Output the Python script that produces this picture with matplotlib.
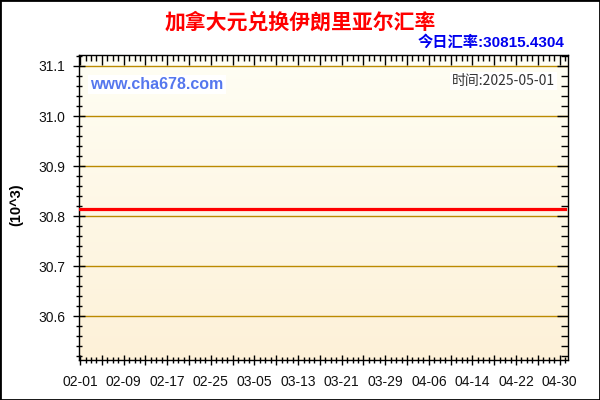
import datetime as dt
import numpy as np
import matplotlib
matplotlib.use("Agg")
import matplotlib.pyplot as plt
from matplotlib.colors import LinearSegmentedColormap
from matplotlib.ticker import MultipleLocator, FuncFormatter
from matplotlib.patches import Rectangle

# CAD -> IRR, 1 CAD in units of 10^3 IRR
dates = ["2025-02-01", "2025-02-09", "2025-02-17", "2025-02-25", "2025-03-05",
         "2025-03-13", "2025-03-21", "2025-03-29", "2025-04-06", "2025-04-14",
         "2025-04-22", "2025-04-30", "2025-05-01"]
rates = [30815.4304, 30815.4304, 30815.4304, 30815.4304, 30815.4304,
         30815.4304, 30815.4304, 30815.4304, 30815.4304, 30815.4304,
         30815.4304, 30815.4304, 30815.4304]
today_rate = "30815.4304"
today = "2025-05-01"

start = dt.date(2025, 2, 1)
days = [(dt.date.fromisoformat(d) - start).days for d in dates]
vals = [r / 1000 for r in rates]

cjk = ["Noto Sans CJK SC", "DejaVu Sans"]
plt.rcParams["font.family"] = ["Liberation Sans", "Noto Sans CJK SC"]

fig = plt.figure(figsize=(6, 4), dpi=100)
fig.patches.append(Rectangle((0, 0), 1, 1, transform=fig.transFigure,
                             fill=False, edgecolor="black", linewidth=2))
ax = fig.add_axes([0.1317, 0.0988, 0.8155, 0.7625])

# gradient background
cmap = LinearSegmentedColormap.from_list("bg", ["#fdf1d8", "#fffef4"])
ax.imshow(np.linspace(0, 1, 256).reshape(-1, 1), cmap=cmap, aspect="auto",
          extent=[0, 1, 0, 1], transform=ax.transAxes, origin="lower", zorder=0)

ax.set_xlim(-0.2, 89.6)
ax.set_ylim(30.512, 31.121)

for y in [30.6, 30.7, 30.8, 30.9, 31.0, 31.1]:
    ax.axhline(y, color="#bb8a00", linewidth=1, zorder=1)

ax.plot(days, vals, color="#ff0000", linewidth=2.3, zorder=3)

# ticks
ax.yaxis.set_major_locator(MultipleLocator(0.1))
ax.yaxis.set_minor_locator(MultipleLocator(0.02))
ax.yaxis.set_major_formatter(FuncFormatter(lambda v, p: f"{v:.1f}"))
ax.xaxis.set_major_locator(MultipleLocator(4))
ax.xaxis.set_minor_locator(MultipleLocator(1))

def xfmt(v, p):
    d = int(round(v))
    if d % 8 != 0:
        return ""
    return (start + dt.timedelta(days=d)).strftime("%m-%d")

ax.xaxis.set_major_formatter(FuncFormatter(xfmt))

ax.tick_params(axis="both", which="both", top=True, right=True, colors="black",
               labelcolor="#111111", labelsize=10)
ax.tick_params(axis="y", which="major", direction="inout", length=8, width=1, pad=6)
ax.tick_params(axis="y", which="minor", direction="inout", length=5, width=1)
ax.tick_params(axis="x", which="major", direction="inout", length=7, width=1, pad=7)
ax.tick_params(axis="x", which="minor", direction="inout", length=4, width=1)
for t in ax.yaxis.get_major_ticks() + ax.yaxis.get_minor_ticks():
    t.tick2line.set_marker(matplotlib.lines.TICKLEFT)
for t in ax.xaxis.get_major_ticks() + ax.xaxis.get_minor_ticks():
    t.tick2line.set_marker(matplotlib.lines.TICKDOWN)
for s in ax.spines.values():
    s.set_color("black")
    s.set_linewidth(1)

ax.set_ylabel("(10^3)", fontsize=10.5, fontweight="bold")
ax.yaxis.set_label_coords(-0.113, 0.51)

fig.text(0.5, 1 - 22 / 400, "加拿大元兑换伊朗里亚尔汇率", ha="center", va="center",
         color="#ff0000", fontsize=15, fontweight="bold", family=cjk)
fig.text(564 / 600, 1 - 42 / 400, "今日汇率:" + today_rate, ha="right", va="center",
         color="#0000ee", fontsize=11, fontweight="bold",
         family=["Liberation Sans", "Noto Sans CJK SC"])
ax.text(0.023, 0.905, "www.cha678.com", transform=ax.transAxes, ha="left", va="center",
        color="#5577ee", fontsize=11.5, fontweight="bold",
        bbox=dict(facecolor="white", edgecolor="none", pad=1.5), zorder=4)
ax.text(0.973, 0.915, "时间:" + today, transform=ax.transAxes, ha="right", va="center",
        color="#333333", fontsize=10, family=cjk,
        bbox=dict(facecolor="white", edgecolor="none", pad=1.5), zorder=4)

fig.savefig("out.png", dpi=100)
